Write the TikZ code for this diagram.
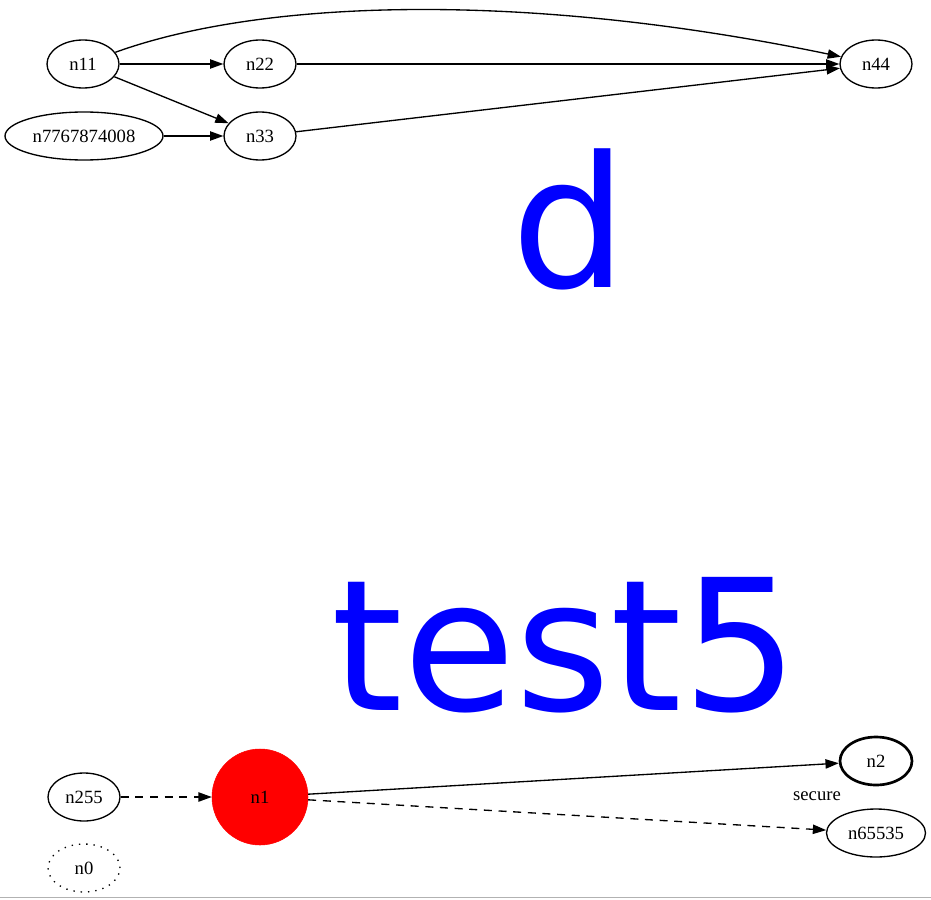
\documentclass[tikz,border=0pt]{standalone}
\usepackage{fontspec}
\setmainfont{Liberation Serif}
\newfontfamily\bigfont{DejaVu Sans}
\usetikzlibrary{shapes.geometric,arrows.meta}

\begin{document}
\begin{tikzpicture}[x=0.75pt,y=-0.75pt,
every node/.style={font=\fontsize{14}{16}\selectfont},
vertex/.style={draw,ellipse,line width=1pt,minimum width=54pt,minimum height=36pt,inner sep=0pt},
edge/.style={line width=1pt,-{Triangle[length=10pt,width=7pt]}},
dashedge/.style={edge,dash pattern=on 6pt off 5pt},
biglabel/.style={text=blue,font=\bigfont\fontsize{137}{140}\selectfont,anchor=base,inner sep=0pt}]
\useasboundingbox (0,0) rectangle (931,899);
\node[vertex] (n11) at (83,64) {n11};
\node[vertex] (n22) at (260,64) {n22};
\node[vertex] (n33) at (260,136) {n33};
\node[vertex,minimum width=118.5pt] (n7767874008) at (84,136) {n7767874008};
\node[vertex] (n44) at (876,64) {n44};
\node[biglabel] (d) at (569,287) {d};
\node[biglabel] (test5) at (565,710) {test5};
\node[vertex] (n255) at (84,797) {n255};
\node[circle,draw=red,fill=red,minimum size=72pt,inner sep=0pt] (n1) at (260,797) {n1};
\node[vertex,line width=2pt] (n2) at (876,761) {n2};
\node[vertex,minimum width=74.25pt] (n65535) at (876,833) {n65535};
\node[vertex,dash pattern=on 1pt off 4.5pt] (n0) at (84,868) {n0};
\node (secure) at (817,796) {secure};
\coordinate (baseL) at (0,897.5);
\coordinate (baseR) at (931,897.5);
\draw[edge] (n11) -- (n22);
\draw[edge] (n11) -- (n33);
\draw[edge] (n7767874008) -- (n33);
\draw[edge] (n11) .. controls (260,0) and (520,-10) .. (n44);
\draw[edge] (n22) -- (n44);
\draw[edge] (n33) -- (n44);
\draw[dashedge] (n255) -- (n1);
\draw[edge] (n1) -- (n2);
\draw[dashedge] (n1) -- (n65535);
\draw[gray!60,line width=1.2pt] (baseL) -- (baseR);
\end{tikzpicture}
\end{document}
